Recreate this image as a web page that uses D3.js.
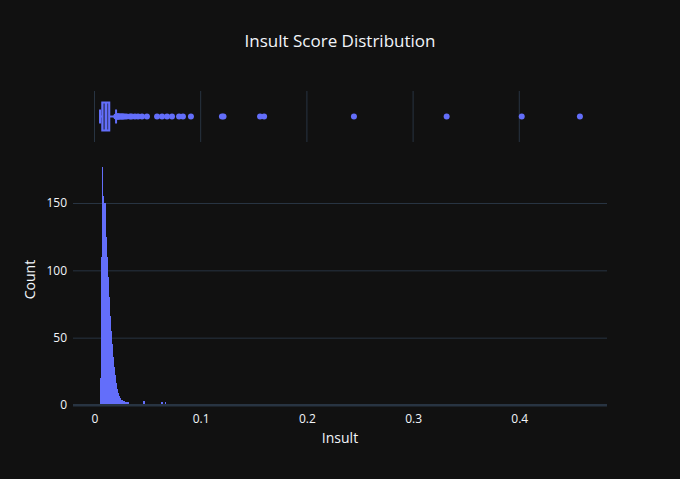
<!DOCTYPE html>
<html>
<head>
<meta charset="utf-8">
<script src="https://cdn.jsdelivr.net/npm/d3@7"></script>
<style>
html,body{margin:0;padding:0;background:#111111;}
svg{display:block;}
text{font-family:"Open Sans",verdana,arial,sans-serif;fill:#f2f5fa;}
</style>
</head>
<body>
<svg id="chart" width="680" height="479"></svg>
<script>
// ---- data ----
const titleText = "Insult Score Distribution";
const xLabel = "Insult";
const yLabel = "Count";
const xTicks = [0, 0.1, 0.2, 0.3, 0.4];
const yTicks = [0, 50, 100, 150];
const binWidth = 0.001;
// histogram bins (left edge) and counts
const binStarts = [0.005,0.006,0.007,0.008,0.009,0.010,0.011,0.012,0.013,0.014,0.015,0.016,0.017,0.018,0.019,0.020,0.021,0.022,0.023,0.024,0.025,0.026,0.027,0.028,0.029,0.030,0.031,0.032,0.033,0.034,0.035,0.037,0.038,0.040,0.041,0.043,0.044,0.046,0.047,0.049,0.051,0.053,0.056,0.058,0.059,0.061,0.063,0.064,0.066,0.067,0.068,0.071,0.073,0.079,0.083,0.090,0.120,0.121,0.155,0.159,0.244,0.331,0.402,0.457];
const binCounts = [20,110,177,155,150,125,110,95,80,66,55,45,36,28,22,16,12,9,7,5,4,3,3,2,2,1,2,1,1,1,1,1,1,1,1,1,1,3,1,1,1,1,1,1,1,1,2,1,2,1,1,1,1,1,1,1,1,1,1,1,1,1,1,1];
// marginal box: [lower fence, Q1, median, Q3, upper fence]
const boxStats = [0.0052, 0.0073, 0.0108, 0.0139, 0.0203];
const outliers = [0.0205,0.021,0.0215,0.022,0.0225,0.023,0.024,0.025,0.026,0.0268,0.028,0.030,0.0334,0.035,0.0381,0.041,0.0447,0.0494,0.0589,0.0636,0.0683,0.073,0.0796,0.0833,0.0908,0.1200,0.1215,0.1559,0.1597,0.2443,0.3316,0.4023,0.4571];

// ---- layout ----
const color = "#636efa";
const grid = "#283442";
const plotL = 73, plotR = 607;
const mainTop = 154, mainBottom = 405;
const margTop = 91, margBottom = 142;

const svg = d3.select("#chart");
svg.append("rect").attr("width",680).attr("height",479).attr("fill","#111111");

const x = d3.scaleLinear().domain([-0.02025, 0.4826]).range([plotL, plotR]);
const y = d3.scaleLinear().domain([0, 186.4]).range([mainBottom, mainTop]);

// y gridlines
const yAxis = d3.axisLeft(y).tickValues(yTicks).tickSize(-(plotR-plotL)).tickPadding(6);
const gy = svg.append("g").attr("transform",`translate(${plotL},0)`).call(yAxis);
gy.select(".domain").remove();
gy.selectAll(".tick line").attr("stroke",grid).attr("stroke-width",1)
  .filter(d=>d===0).attr("stroke-width",2);
gy.selectAll(".tick text").attr("font-size",12).attr("fill","#f2f5fa")
  .style("font-family",'"Open Sans",verdana,arial,sans-serif');

// marginal vertical gridlines
svg.append("g").selectAll("line").data(xTicks).join("line")
  .attr("x1",d=>x(d)).attr("x2",d=>x(d)).attr("y1",margTop).attr("y2",margBottom)
  .attr("stroke",grid).attr("stroke-width",1);

// histogram bars
svg.append("g").attr("shape-rendering","crispEdges")
  .selectAll("rect").data(binStarts.map((b,i)=>({b,c:binCounts[i]}))).join("rect")
  .attr("x",d=>x(d.b)).attr("width",d=>Math.max(1, x(d.b+binWidth)-x(d.b)+0.4))
  .attr("y",d=>y(d.c)).attr("height",d=>y(0)-y(d.c))
  .attr("fill",color);

// redraw zero line on top
svg.append("line").attr("x1",plotL).attr("x2",plotR).attr("y1",y(0)).attr("y2",y(0))
  .attr("stroke",grid).attr("stroke-width",2);

// x axis tick labels
const xAxis = d3.axisBottom(x).tickValues(xTicks).tickSize(0).tickPadding(8).tickFormat(d3.format("~g"));
const gx = svg.append("g").attr("transform",`translate(0,${mainBottom+1})`).call(xAxis);
gx.select(".domain").remove();
gx.selectAll(".tick text").attr("font-size",12).attr("fill","#f2f5fa")
  .style("font-family",'"Open Sans",verdana,arial,sans-serif');

// box plot
const cy = (margTop+margBottom)/2;
const bh = 14;
const [lf,q1,med,q3,uf] = boxStats;
const gb = svg.append("g");
gb.append("rect").attr("x",x(q1)).attr("y",cy-bh).attr("width",x(q3)-x(q1)).attr("height",2*bh)
  .attr("fill",color).attr("fill-opacity",0.5).attr("stroke",color).attr("stroke-width",2);
gb.append("line").attr("x1",x(med)).attr("x2",x(med)).attr("y1",cy-bh).attr("y2",cy+bh)
  .attr("stroke",color).attr("stroke-width",2);
gb.append("line").attr("x1",x(lf)).attr("x2",x(q1)).attr("y1",cy).attr("y2",cy).attr("stroke",color).attr("stroke-width",2);
gb.append("line").attr("x1",x(q3)).attr("x2",x(uf)).attr("y1",cy).attr("y2",cy).attr("stroke",color).attr("stroke-width",2);
gb.append("line").attr("x1",x(lf)).attr("x2",x(lf)).attr("y1",cy-bh/2).attr("y2",cy+bh/2).attr("stroke",color).attr("stroke-width",2);
gb.append("line").attr("x1",x(uf)).attr("x2",x(uf)).attr("y1",cy-bh/2).attr("y2",cy+bh/2).attr("stroke",color).attr("stroke-width",2);
gb.selectAll("circle").data(outliers).join("circle")
  .attr("cx",d=>x(d)).attr("cy",cy).attr("r",3).attr("fill",color);

// titles
svg.append("text").attr("x",340).attr("y",47).attr("text-anchor","middle")
  .attr("font-size",17).text(titleText);
svg.append("text").attr("x",(plotL+plotR)/2).attr("y",443).attr("text-anchor","middle")
  .attr("font-size",14).text(xLabel);
svg.append("text").attr("transform",`translate(35,${(mainTop+mainBottom)/2}) rotate(-90)`)
  .attr("text-anchor","middle").attr("font-size",14).text(yLabel);
</script>
</body>
</html>
